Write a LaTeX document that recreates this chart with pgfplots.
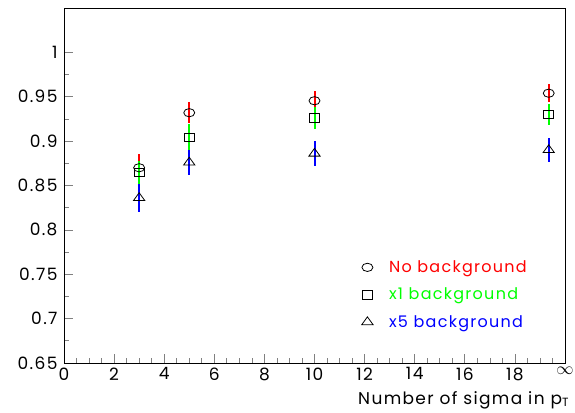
\documentclass[border=0pt]{standalone}
\usepackage{fontspec}
\setmainfont{Poppins}[LetterSpace=8]
\usepackage{pgfplots}
\usepackage{pgfplotstable}
\pgfplotsset{compat=1.18}

% x  y  err
\pgfplotstableread{
x      y       e
3      0.870   0.016
5      0.932   0.012
10     0.9455  0.011
19.35  0.954   0.010
}\nobkg
\pgfplotstableread{
x      y       e
3      0.865   0.013
5      0.904   0.015
10     0.926   0.012
19.35  0.930   0.012
}\onebkg
\pgfplotstableread{
x      y       e
3      0.836   0.016
5      0.876   0.014
10     0.886   0.014
19.35  0.890   0.014
}\fivebkg

% plain error bar, no end-mark node
\pgfplotsset{
    errbar/.style={forget plot, color=#1, draw=none, mark=none,
        error bars/.cd, y dir=both, y explicit,
        draw error bar/.code 2 args={\draw[draw=#1, line width=2pt] ##1 -- ##2;}},
}

\begin{document}
\begin{tikzpicture}
\path[use as bounding box] (-64pt,-49pt) rectangle (511pt,363pt);
\begin{axis}[
    at={(0,0)}, anchor=south west,
    scale only axis,
    width=501pt, height=355pt,
    xmin=0, xmax=20, ymin=0.65, ymax=1.05,
    xtick={0,2,4,6,8,10,12,14,16,18,20},
    xticklabels={0,2,4,6,8,10,12,14,16,18,$\infty$},
    ytick={0.65,0.7,0.75,0.8,0.85,0.9,0.95,1},
    minor x tick num=3, minor y tick num=1,
    tick pos=left, tick align=inside,
    major tick length=9pt, minor tick length=5pt,
    axis line style={line width=0.9pt},
    tick style={line width=0.7pt},
    font=\fontsize{17}{19}\selectfont,
    /pgf/number format/assume math mode=true,
    yticklabel style={/pgf/number format/fixed, /pgf/number format/precision=2, xshift=-3pt},
    xticklabel style={yshift=-1pt},
    xlabel={Number of sigma in p\textsubscript{T}},
    xlabel style={at={(axis description cs:1.015,-0.07)}, anchor=north east},
    legend style={at={(0.588,0.30)}, anchor=north west, draw=none, fill=none,
        row sep=10pt, cells={anchor=west}, font=\fontsize{16}{18}\selectfont},
]
% error bars first, marks on top
\addplot[errbar=red] table[x=x, y=y, y error=e] {\nobkg};
\addplot[errbar=green] table[x=x, y=y, y error=e] {\onebkg};
\addplot[errbar=blue] table[x=x, y=y, y error=e] {\fivebkg};

\addplot[only marks, mark=o, mark size=5.5pt,
    mark options={draw=black, fill=white, yscale=0.75, line width=0.8pt}]
    table[x=x, y=y] {\nobkg};
\addlegendentry{\hspace{14pt}\textcolor{red}{No background}}
\addplot[only marks, mark=square, mark size=5pt,
    mark options={draw=black, fill=white, yscale=0.85, line width=0.8pt}]
    table[x=x, y=y] {\onebkg};
\addlegendentry{\hspace{14pt}\textcolor{green}{x1 background}}
\addplot[only marks, mark=triangle, mark size=6.5pt,
    mark options={draw=black, fill=white, yscale=0.8, line width=0.8pt}]
    table[x=x, y=y] {\fivebkg};
\addlegendentry{\hspace{14pt}\textcolor{blue}{x5 background}}
\end{axis}
\end{tikzpicture}
\end{document}
